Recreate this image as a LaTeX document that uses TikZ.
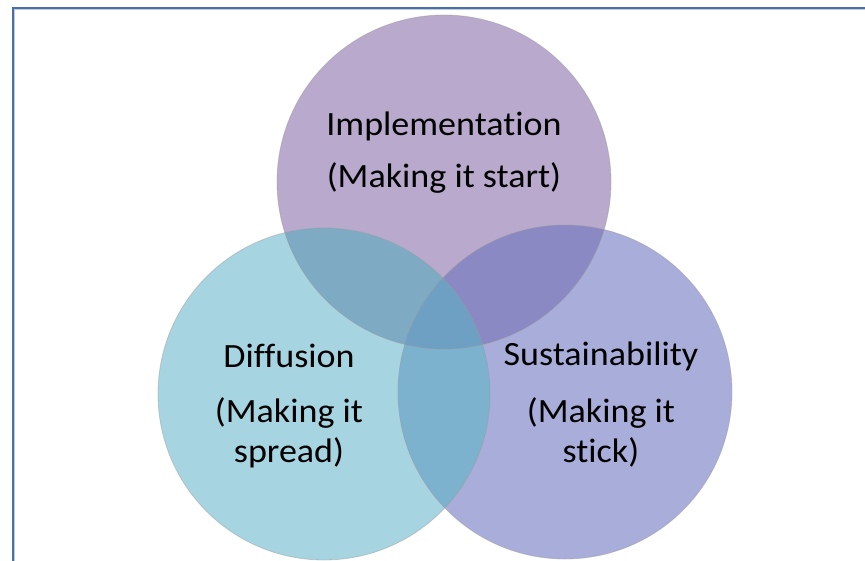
\documentclass[tikz,border=0pt]{standalone}
\usepackage{fontspec}
\setmainfont{Carlito}
\newfontfamily\labelfont[FakeStretch=1.06,Ligatures=NoCommon]{Carlito}
\begin{document}
\begin{tikzpicture}[x=1pt,y=-1pt,
  ring/.style={draw=black!40,draw opacity=0.45,line width=0.8pt},
  label/.style={align=center,anchor=base,inner sep=0pt,
    font=\labelfont\fontsize{34}{40}\selectfont},
  frameline/.style={draw=frameblue,line width=2pt},
  frameglow/.style={draw=frameblue!35,line width=0.9pt}]
  \definecolor{frameblue}{HTML}{4A6FA6}
  \definecolor{cTop}{HTML}{B9A9CD}
  \definecolor{cLeft}{HTML}{A6D5E1}
  \definecolor{cRight}{HTML}{A8AED9}
  \definecolor{cTL}{HTML}{7EAAC3}
  \definecolor{cTR}{HTML}{8B89C4}
  \definecolor{cLR}{HTML}{7DB2CF}
  \definecolor{cAll}{HTML}{6EA0C3}
  \useasboundingbox (0,0) rectangle (865,560);
  \clip (0,0) rectangle (865,560);
  % circle centres
  \coordinate (T) at (444,182);
  \coordinate (L) at (324,394);
  \coordinate (R) at (565,392);
  % single regions
  \fill[cTop] (T) circle[radius=167];
  \fill[cLeft] (L) circle[radius=166];
  \fill[cRight] (R) circle[radius=167];
  % pairwise overlaps
  \begin{scope}
    \clip (T) circle[radius=167];
    \fill[cTL] (L) circle[radius=166];
  \end{scope}
  \begin{scope}
    \clip (T) circle[radius=167];
    \fill[cTR] (R) circle[radius=167];
  \end{scope}
  \begin{scope}
    \clip (L) circle[radius=166];
    \fill[cLR] (R) circle[radius=167];
  \end{scope}
  % triple overlap
  \begin{scope}
    \clip (T) circle[radius=167];
    \clip (L) circle[radius=166];
    \fill[cAll] (R) circle[radius=167];
  \end{scope}
  % outlines
  \draw[ring] (T) circle[radius=167];
  \draw[ring] (L) circle[radius=166];
  \draw[ring] (R) circle[radius=167];
  % labels (anchored at the baseline of their last line)
  \node[label] (impl) at (444,187) {Implementation\\[12pt](Making it start)};
  \node[label] (diff) at (289,462) {Diffusion\\[15pt](Making it\\spread)};
  \node[label] (sust) at (601,462) {Sustainability\\[17pt](Making it\\stick)};
  % frame
  \coordinate (fc) at (12.5,8);
  \coordinate (fr) at (866,8);
  \coordinate (fb) at (12.5,561);
  \draw[frameglow] ([shift={(1.6,1.6)}]fb) -- ([shift={(1.6,1.6)}]fc) -- ([shift={(1.6,1.6)}]fr);
  \draw[frameline] (fb) -- (fc) -- (fr);
\end{tikzpicture}
\end{document}
